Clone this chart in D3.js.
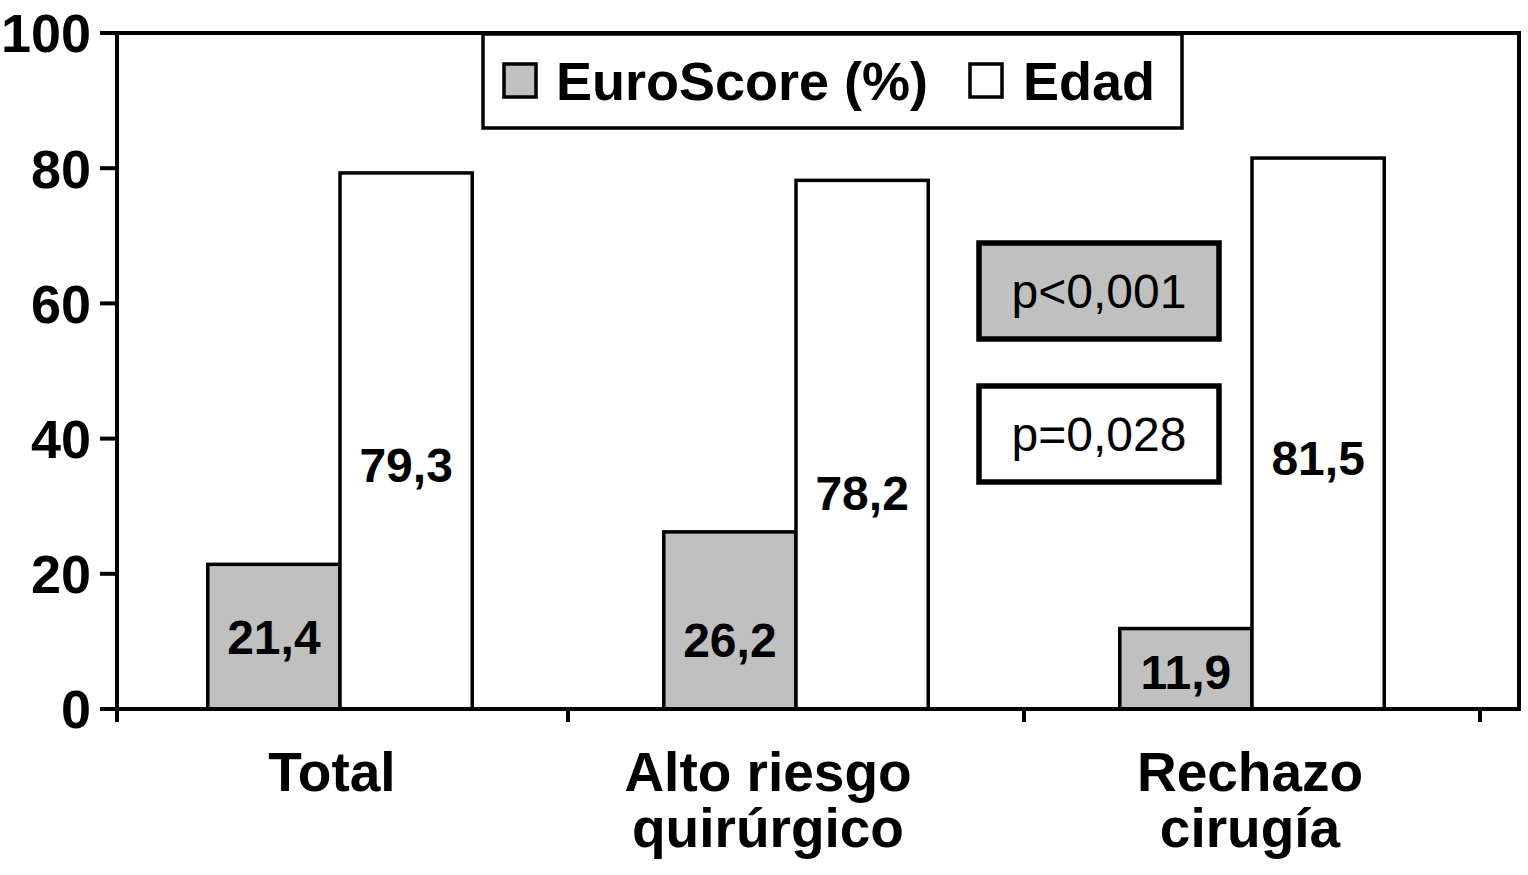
<!DOCTYPE html>
<html>
<head>
<meta charset="utf-8">
<script src="https://cdn.jsdelivr.net/npm/d3@7"></script>
<style>
  html, body { margin: 0; padding: 0; background: #fff; }
  svg { display: block; font-family: "Liberation Sans", Arial, Helvetica, sans-serif; }
</style>
</head>
<body>
<svg id="chart" width="1528" height="875"></svg>
<script>
// ---- data ----
const categories = ["Total", "Alto riesgo quirúrgico", "Rechazo cirugía"];
const categoryLines = [["Total"], ["Alto riesgo", "quirúrgico"], ["Rechazo", "cirugía"]];
const seriesNames = ["EuroScore (%)", "Edad"];
const euroScore = [21.4, 26.2, 11.9];
const edad = [79.3, 78.2, 81.5];
const euroLabels = ["21,4", "26,2", "11,9"];
const edadLabels = ["79,3", "78,2", "81,5"];
// label anchor heights (in data units)
const euroLabelAt = [10.7, 10.2, 5.5];
const edadLabelAt = [36.1, 32.0, 37.2];
const yTicks = [0, 20, 40, 60, 80, 100];
const pTexts = ["p<0,001", "p=0,028"];

// ---- layout ----
const GRAY = "#c0c0c0";
const FONT = '"Liberation Sans", Arial, Helvetica, sans-serif';
const svg = d3.select("#chart");
const axisX = 117, frameRight = 1519;
const y = d3.scaleLinear().domain([0, 100]).range([709, 33]);
const x = d3.scaleBand().domain(categories).range([112, 1480]);
const bw = x.bandwidth();
const x1 = d3.scaleBand().domain(seriesNames).range([0.21 * bw, 0.79 * bw]);
const catDx = [-8, -28, -2];

const series = [
  { name: seriesNames[0], values: euroScore, labels: euroLabels, at: euroLabelAt, fill: GRAY },
  { name: seriesNames[1], values: edad, labels: edadLabels, at: edadLabelAt, fill: "#fff" }
];

// bars
series.forEach(s => {
  svg.append("g").selectAll("rect").data(categories).join("rect")
    .attr("x", c => x(c) + x1(s.name))
    .attr("y", (c, i) => y(s.values[i]))
    .attr("width", x1.bandwidth())
    .attr("height", (c, i) => y(0) - y(s.values[i]))
    .attr("fill", s.fill).attr("stroke", "#000").attr("stroke-width", 3.5);
  svg.append("g").selectAll("text").data(categories).join("text")
    .attr("x", c => x(c) + x1(s.name) + x1.bandwidth() / 2)
    .attr("y", (c, i) => y(s.at[i]))
    .attr("dy", "0.36em")
    .attr("text-anchor", "middle")
    .attr("font-weight", "bold").attr("font-size", 48)
    .text((c, i) => s.labels[i]);
});

// frame (top, right) and axes
svg.append("line").attr("x1", axisX).attr("x2", frameRight).attr("y1", y(100)).attr("y2", y(100))
  .attr("stroke", "#000").attr("stroke-width", 4);
svg.append("line").attr("x1", frameRight).attr("x2", frameRight).attr("y1", y(100) - 2).attr("y2", y(0) + 2)
  .attr("stroke", "#000").attr("stroke-width", 4);
svg.append("line").attr("x1", axisX).attr("x2", frameRight).attr("y1", y(0)).attr("y2", y(0))
  .attr("stroke", "#000").attr("stroke-width", 4);
svg.append("line").attr("x1", axisX).attr("x2", axisX).attr("y1", y(100) - 2).attr("y2", y(0) + 13)
  .attr("stroke", "#000").attr("stroke-width", 4);

// y ticks
const yg = svg.append("g");
yg.selectAll("line").data(yTicks).join("line")
  .attr("x1", axisX - 17).attr("x2", axisX).attr("y1", d => y(d)).attr("y2", d => y(d))
  .attr("stroke", "#000").attr("stroke-width", 4);
yg.selectAll("text").data(yTicks).join("text")
  .attr("x", 91).attr("y", d => y(d)).attr("dy", "0.36em")
  .attr("text-anchor", "end").attr("font-weight", "bold").attr("font-size", 54)
  .text(d => d);

// x ticks at band boundaries (after first)
const xb = categories.slice(1).map(c => x(c)).concat([x.range()[1]]);
svg.append("g").selectAll("line").data(xb).join("line")
  .attr("x1", d => d).attr("x2", d => d).attr("y1", y(0)).attr("y2", y(0) + 13)
  .attr("stroke", "#000").attr("stroke-width", 4);

// category labels
const cg = svg.append("g");
categories.forEach((c, i) => {
  const t = cg.append("text")
    .attr("x", x(c) + bw / 2 + catDx[i]).attr("y", 791)
    .attr("text-anchor", "middle").attr("font-weight", "bold").attr("font-size", 55);
  categoryLines[i].forEach((ln, j) => {
    t.append("tspan").attr("x", x(c) + bw / 2 + catDx[i]).attr("y", 791 + j * 56).text(ln);
  });
});

// legend
const lg = svg.append("g");
lg.append("rect").attr("x", 483).attr("y", 34).attr("width", 699).attr("height", 94)
  .attr("fill", "#fff").attr("stroke", "#000").attr("stroke-width", 3.5);
const legendItems = [
  { name: seriesNames[0], fill: GRAY, sx: 504, tx: 556 },
  { name: seriesNames[1], fill: "#fff", sx: 970, tx: 1023 }
];
legendItems.forEach(it => {
  lg.append("rect").attr("x", it.sx).attr("y", 64).attr("width", 32).attr("height", 33)
    .attr("fill", it.fill).attr("stroke", "#000").attr("stroke-width", 3.5);
  lg.append("text").attr("x", it.tx).attr("y", 100)
    .attr("font-weight", "bold").attr("font-size", 54).text(it.name);
});

// p-value boxes
const pg = svg.append("g");
const pBoxes = [
  { text: pTexts[0], fill: GRAY, y0: 243 },
  { text: pTexts[1], fill: "#fff", y0: 386 }
];
pBoxes.forEach(b => {
  pg.append("rect").attr("x", 979).attr("y", b.y0).attr("width", 240).attr("height", 96)
    .attr("fill", b.fill).attr("stroke", "#000").attr("stroke-width", 5.5);
  pg.append("text").attr("x", 1099).attr("y", b.y0 + 48).attr("dy", "0.36em")
    .attr("text-anchor", "middle").attr("font-size", 48).text(b.text);
});
</script>
</body>
</html>
